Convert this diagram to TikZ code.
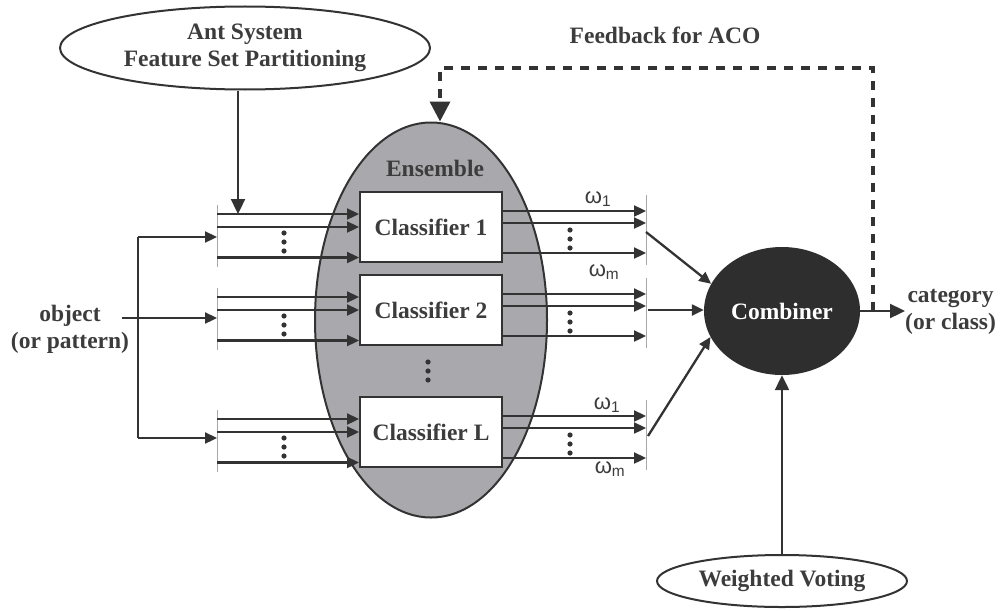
\documentclass[tikz,border=0pt]{standalone}
\usepackage{fontspec}
\setmainfont{Liberation Serif}
\newfontfamily\omfont{Liberation Sans}
\usetikzlibrary{shapes.geometric,arrows.meta,calc}
\definecolor{ink}{HTML}{333333}
\definecolor{txtc}{HTML}{3C3C3C}
\definecolor{ensgray}{HTML}{A9A9AD}
\definecolor{combfill}{HTML}{2E2E2E}
\definecolor{bargray}{HTML}{A8A8A8}
\tikzset{
  txt/.style={text=txtc, font=\fontsize{23.5}{27}\selectfont\bfseries, align=center, inner sep=0pt},
  ell/.style={ellipse, draw=ink, line width=2pt, fill=white, inner sep=0pt, txt},
  cbox/.style={rectangle, draw=ink, line width=2pt, fill=white, minimum width=142pt, minimum height=70pt, txt},
  arr/.style={draw=ink, line width=2.3pt, -{Triangle[length=12pt,width=11pt]}},
  bigarr/.style={draw=ink, line width=2.3pt, -{Triangle[length=15pt,width=14pt]}},
  plain/.style={draw=ink, line width=2.3pt},
  bar/.style={draw=bargray, line width=1pt},
  fbline/.style={draw=ink, line width=3.5pt, dash pattern=on 9pt off 8pt, -{Triangle[length=20pt,width=20pt]}},
  om/.style={text=txtc, font=\omfont\fontsize{22}{24}\selectfont, inner sep=0pt}
}
\begin{document}
\begin{tikzpicture}[x=1pt,y=-1pt]
\path[use as bounding box, fill=white] (0,0) rectangle (1000,610);

% main shapes
\node[ell, minimum width=370pt, minimum height=83pt] (ant) at (245,48) {Ant System\\Feature Set Partitioning};
\node[ellipse, draw=ink, line width=2pt, fill=ensgray, minimum width=232pt, minimum height=395pt] (ens) at (431,320) {};
\node[txt] (enst) at (435,168) {Ensemble};
\node[cbox] (c1) at (431,227) {Classifier 1};
\node[cbox] (c2) at (431,310) {Classifier 2};
\node[cbox] (cL) at (431,432) {Classifier L};
\node[ellipse, fill=combfill, minimum width=156pt, minimum height=128pt, inner sep=0pt, txt, text=white] (comb) at (782,311) {Combiner};
\node[ell, minimum width=250pt, minimum height=52pt] (wv) at (782,581) {Weighted Voting};
\node[txt] (obj) at (70,329) {object\\(or pattern)};
\node[txt, anchor=west] (cat) at (905,312) {category\\(or class)};
\node[txt] (fbt) at (665,35) {Feedback for ACO};

% dots between classifiers
\coordinate (ed) at ($(c2.south)!0.5!(cL.north)$);
\foreach \k in {-9,0,9} \fill[ink] ($(ed)+(-3,\k)$) circle (2.6pt);

% bar reference points
\foreach \n/\yc in {1/227,2/310,L/432}{
  \coordinate (ib\n) at (217,\yc);
  \coordinate (ob\n) at (646,\yc);
}

% input and output line groups
\foreach \n in {1,2,L}{
  \draw[bar] ($(ib\n)+(0,-22)$) -- ($(ib\n)+(0,40)$);
  \draw[bar] ($(ob\n)+(0,-32)$) -- ($(ob\n)+(0,38)$);
  \foreach \dy in {-13,0,30.5}{
    \coordinate (t) at ($(c\n.west)+(0,\dy)$);
    \draw[arr] (t -| ib\n) -- (t);
  }
  \foreach \dy in {-16,-4,26}{
    \coordinate (t) at ($(c\n.east)+(0,\dy)$);
    \draw[arr] (t) -- (t -| ob\n);
  }
  \foreach \k in {-9,0,9}{
    \fill[ink] ($(ib\n)+(67,15+\k)$) circle (2.6pt);
    \fill[ink] ($(ob\n)+(-76,12+\k)$) circle (2.6pt);
  }
}

% omega labels
\node[om] (w11) at (598,199) {ω\textsubscript{1}};
\node[om] (w1m) at (604,272) {ω\textsubscript{m}};
\node[om] (wL1) at (607,405) {ω\textsubscript{1}};
\node[om] (wLm) at (610,469) {ω\textsubscript{m}};

% object inputs
\coordinate (jt) at (138,237);
\coordinate (jb) at (138,438);
\coordinate (objout) at (122,318);
\draw[plain] (jt) -- (jb);
\draw[arr] (jt) -- (jt -| ib1);
\draw[arr] (jb) -- (jb -| ibL);
\draw[arr] (objout) -- (objout -| ib2);

% ant system arrow
\coordinate (antin) at (238,214);
\draw[bigarr] (antin |- ant.south) -- (antin);

% to combiner
\coordinate (oc1) at (646,232);
\coordinate (oc2) at (648,310);
\coordinate (ocL) at (648,436);
\draw[arr] (oc1) -- (comb.159);
\draw[arr] (oc2) -- (oc2 -| comb.west);
\draw[arr] (ocL) -- (comb.200);

% output
\draw[bigarr] (comb.east) -- (comb.east -| cat.west);

% weighted voting
\draw[bigarr] (wv.north) -- (comb.south);

% feedback
\coordinate (fbR) at (873,68);
\coordinate (fbL) at (440,68);
\draw[fbline] (fbR |- comb.east) -- (fbR) -- (fbL) -- (fbL |- ens.north);
\end{tikzpicture}
\end{document}
